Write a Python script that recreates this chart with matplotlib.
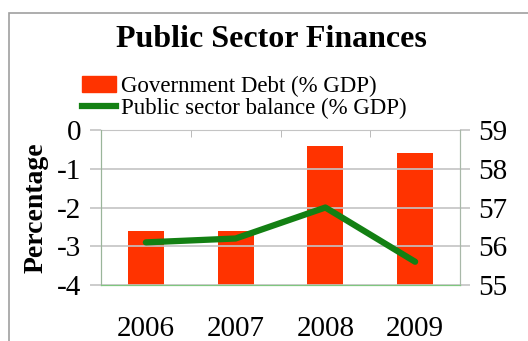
import numpy as np
import matplotlib
matplotlib.use('Agg')
import matplotlib.pyplot as plt
from matplotlib.patches import Rectangle, Patch
from matplotlib.lines import Line2D

plt.rcParams['font.family'] = ['Liberation Serif', 'DejaVu Serif']
plt.rcParams['axes.unicode_minus'] = False  # hyphen, like the original

# data
years = ['2006', '2007', '2008', '2009']
debt = [56.4, 56.4, 58.6, 58.4]          # right axis, % GDP
balance = [-2.9, -2.8, -2.0, -3.4]       # left axis, % GDP

fig = plt.figure(figsize=(5.28, 3.41), dpi=100)

# grey frame around the chart (Excel style)
fig.patches.append(Rectangle((9 / 528, -0.1), 1.2, 1.1 - 13 / 341,
                             transform=fig.transFigure, fill=False,
                             edgecolor='#a0a0a0', linewidth=1.2))

ax = fig.add_axes([101 / 528, 1 - 285 / 341, 359 / 528, 155 / 341])
ax2 = ax.twinx()

x = np.arange(len(years))
ax2.bar(x, debt, width=0.4, color='#ff3300', zorder=2)
ax.plot(x, balance, color='#138013', linewidth=4.5, solid_capstyle='round', zorder=3)

# line above the bars
ax.set_zorder(ax2.get_zorder() + 1)
ax.patch.set_visible(False)

ax.set_xlim(-0.5, 3.5)
ax.set_ylim(-4, 0)
ax2.set_ylim(55, 59)
ax.set_yticks([-4, -3, -2, -1, 0])
ax2.set_yticks([55, 56, 57, 58, 59])

ax.grid(axis='y', color='#c4c4c4', linewidth=1.2)
ax.set_axisbelow(True)

ax.set_xticks(x)
ax.set_xticklabels(years)
ax.tick_params(axis='x', length=0, pad=22, labelsize=21)
ax.set_xticks([0.5, 1.5, 2.5], minor=True)
ax.tick_params(axis='x', which='minor', top=True, bottom=False, direction='in',
               length=5, color='#b0b0b0')
ax.tick_params(axis='y', length=8, width=1.2, color='#c4c4c4', labelsize=21, pad=6)
ax2.tick_params(axis='y', length=7, width=1.2, color='#c4c4c4', labelsize=21, pad=6)

for a in (ax, ax2):
    a.spines['top'].set_visible(False)
    a.spines['left'].set_color('#9ab59a')
    a.spines['right'].set_color('#a8b8a8')
    a.spines['bottom'].set_color('#7fc77f')
ax2.spines['top'].set_visible(True)
ax2.spines['top'].set_color('#c4c4c4')

ax.set_ylabel('Percentage', fontsize=20, fontweight='bold', labelpad=6)

fig.text(0.515, 0.885, 'Public Sector Finances', ha='center', va='center',
         fontsize=23, fontweight='bold')

handles = [Patch(color='#ff3300'),
           Line2D([0], [0], color='#138013', linewidth=4.5)]
fig.legend(handles, ['Government Debt (% GDP)', 'Public sector balance (% GDP)'],
           loc='upper left', bbox_to_anchor=(82 / 528, 1 - 76 / 341),
           frameon=False, fontsize=16.5, handlelength=1.5, handletextpad=0.2,
           labelspacing=0.05, borderpad=0, borderaxespad=0)

fig.savefig('out.png', dpi=100)
